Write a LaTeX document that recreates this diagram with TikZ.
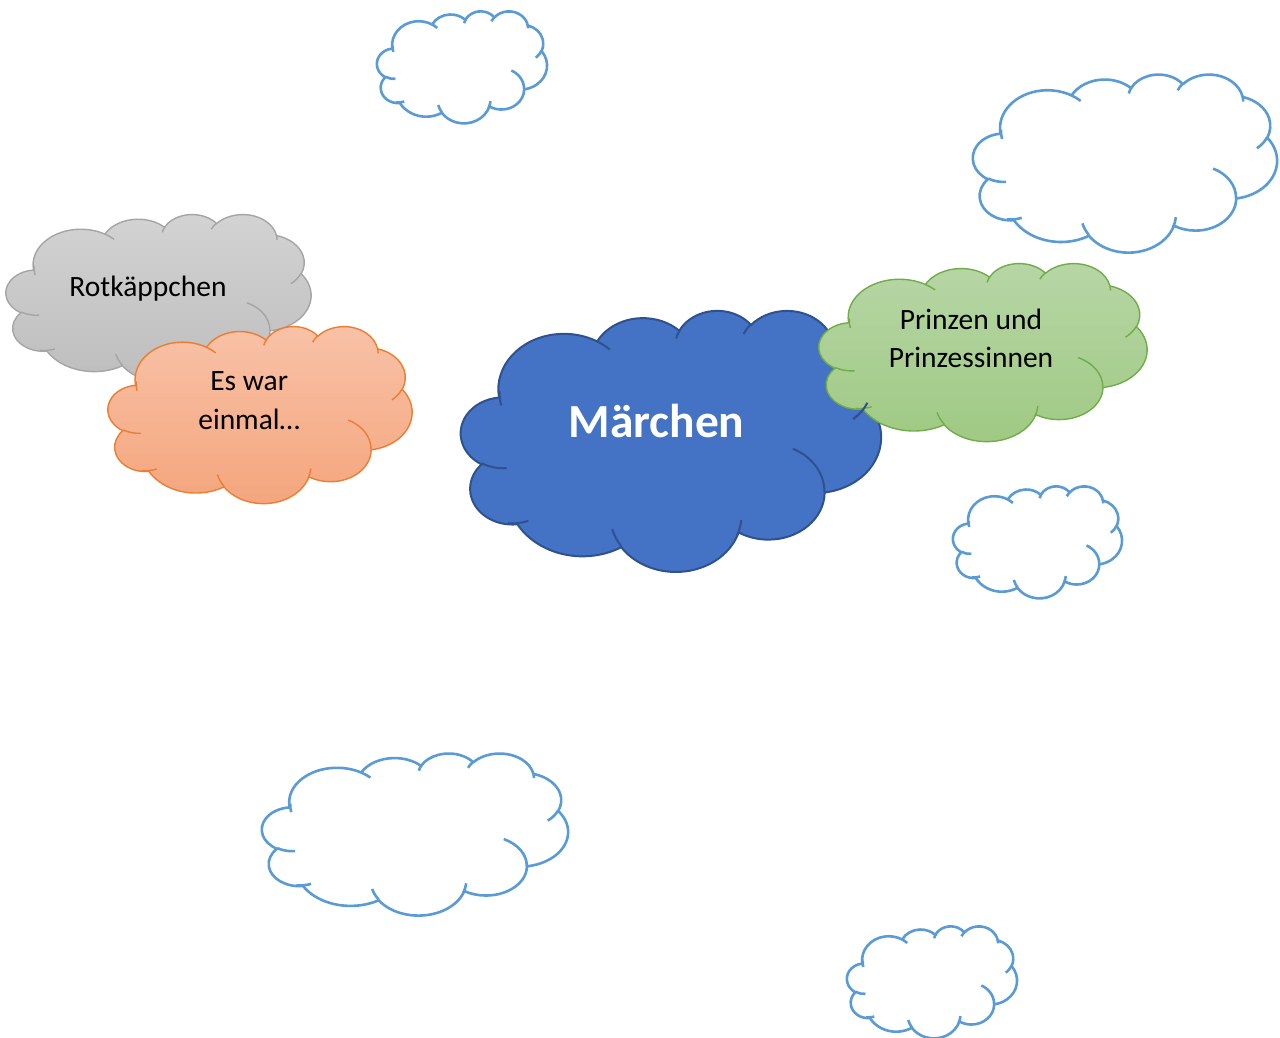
\documentclass[tikz,border=0pt]{standalone}
\usepackage{fontspec}
\setmainfont{Carlito}

% --- Office-style cloud geometry, computed once (units: 1/100 of 43200 box) ---
\newcommand\mkarc[5]{%
  \pgfmathsetmacro\cldtA{atan2((#2)*sin(#4),(#3)*cos(#4))}%
  \pgfmathsetmacro\cldtB{atan2((#2)*sin((#4)+(#5)),(#3)*cos((#4)+(#5)))}%
  \pgfmathsetmacro\cldtD{\cldtB-\cldtA}%
  \pgfmathsetmacro\cldtD{ifthenelse(\cldtD<0,\cldtD+360,\cldtD)}%
  \expandafter\xdef\csname cld#1\endcsname{ arc[start angle=\cldtA, delta angle=\cldtD, x radius=#2, y radius=#3]}%
}
\mkarc{A}{67.53}{91.90}{-190.48748}{123.78053}
\mkarc{B}{53.33}{72.67}{-144.10238}{89.94523}
\mkarc{C}{43.65}{59.45}{-145.80792}{99.72302}
\mkarc{D}{48.57}{65.95}{-130.98607}{117.24173}
\mkarc{E}{53.33}{72.73}{-78.70888}{109.02692}
\mkarc{F}{67.75}{92.20}{-46.26725}{130.26900}
\mkarc{G}{57.85}{78.67}{0.62502}{114.03333}
\mkarc{H}{67.52}{92.15}{22.45160}{115.17255}
\mkarc{I}{77.20}{105.43}{66.24263}{75.71102}
\mkarc{J}{43.60}{59.18}{-274.94208}{146.73557}
\mkarc{K}{43.45}{59.45}{-246.82850}{152.51885}
\mkarc{a}{43.45}{59.45}{86.74200}{26.42950}
\mkarc{b}{43.60}{59.18}{73.61047}{20.99983}
\mkarc{c}{67.52}{92.15}{137.62415}{23.10247}
\mkarc{d}{67.52}{92.15}{6.45327}{20.88238}
\mkarc{e}{57.85}{78.67}{-70.29235}{70.91737}
\mkarc{f}{53.33}{72.73}{30.31803}{27.75150}
\mkarc{g}{48.57}{65.95}{-13.74433}{14.85890}
\mkarc{h}{48.57}{65.95}{-149.18145}{18.19537}
\mkarc{i}{43.65}{59.45}{-163.49427}{17.68635}
\mkarc{j}{67.53}{91.90}{-66.70695}{12.31935}
\mkarc{k}{67.53}{91.90}{163.73648}{19.50135}
\xdef\cloudmain{(39.00,143.70)\cldA\cldB\cldC\cldD\cldE\cldF\cldG\cldH\cldI\cldJ\cldK -- cycle}
\xdef\clouddetail{(46.93,261.77)\clda (69.28,348.99)\cldb (164.78,390.90)\cldc
  (288.27,347.51)\cldd (341.29,229.54)\clde (417.98,153.54)\cldf (383.24,54.26)\cldg
  (290.78,39.52)\cldh (221.41,47.20)\cldi (140.00,51.92)\cldj (41.27,157.89)\cldk}
\xdef\clouddetailsix{(417.98,153.54)\cldf}

% #1 x0, #2 y0, #3 w, #4 h, #5 fill style, #6 line style
\newcommand\cloudbody[6]{%
  \begin{scope}[shift={(#1,#2)}, xscale=#3/432, yscale=#4/432]
    \path[#5,#6] \cloudmain;
    \path[#6] \clouddetail;
  \end{scope}}
\newcommand\cloudsix[5]{%
  \begin{scope}[shift={(#1,#2)}, xscale=#3/432, yscale=#4/432]
    \path[#5] \clouddetailsix;
  \end{scope}}

\definecolor{wline}{HTML}{5B9BD5}
\definecolor{bfill}{HTML}{4472C4}
\definecolor{bline}{HTML}{2F528F}
\definecolor{gline}{HTML}{70AD47}
\definecolor{gtop}{RGB}{183,214,166}
\definecolor{gbot}{RGB}{159,201,131}
\definecolor{oline}{HTML}{ED7D31}
\definecolor{otop}{RGB}{248,194,168}
\definecolor{obot}{RGB}{244,165,124}
\definecolor{kline}{HTML}{A5A5A5}
\definecolor{ktop}{RGB}{211,211,211}
\definecolor{kbot}{RGB}{189,189,189}

\tikzset{
  whitefill/.style={fill=white},
  whiteline/.style={draw=wline, line width=2.6pt, line join=round},
  grayfill/.style={top color=ktop, bottom color=kbot},
  grayline/.style={draw=kline, line width=1.4pt},
  orangefill/.style={top color=otop, bottom color=obot},
  orangeline/.style={draw=oline, line width=1.4pt},
  bluefill/.style={fill=bfill},
  blueline/.style={draw=bline, line width=2pt},
  greenfill/.style={top color=gtop, bottom color=gbot},
  greenline/.style={draw=gline, line width=1.4pt},
  cloudtext/.style={font=\fontsize{29.5}{36}\selectfont, text=black, inner sep=0pt, anchor=base},
  titletext/.style={font=\fontsize{47.5}{57}\selectfont\bfseries, text=white, inner sep=0pt, anchor=base},
}

\begin{document}
\begin{tikzpicture}[x=1pt, y=-1pt]
  \useasboundingbox (0,0) rectangle (1280,1037);
  \fill[white] (0,0) rectangle (1280,1037);

  % empty clouds
  \cloudbody{377}{11}{170}{112}{whitefill}{whiteline}
  \cloudbody{973}{74}{304}{178}{whitefill}{whiteline}
  \cloudbody{953}{486}{169}{112}{whitefill}{whiteline}
  \cloudbody{262}{753}{306}{162}{whitefill}{whiteline}
  \cloudbody{847}{926}{170}{112}{whitefill}{whiteline}

  % filled clouds
  \cloudbody{6}{214}{305}{167}{grayfill}{grayline}
  \cloudbody{108}{326}{304}{177}{orangefill}{orangeline}
  \cloudbody{461}{310}{420}{261}{bluefill}{blueline}
  \cloudbody{819}{263}{328}{178}{greenfill}{greenline}
  \cloudsix{461}{310}{420}{261}{blueline}

  % texts
  \node[cloudtext] (rot) at (148,296.7) {Rotkäppchen};
  \node[cloudtext] (es1) at (249.2,390) {Es war};
  \node[cloudtext] (es2) at (249.2,429) {einmal…};
  \node[titletext] (mar) at (656.5,437.7) {Märchen};
  \node[cloudtext] (pr1) at (971,329) {Prinzen und};
  \node[cloudtext] (pr2) at (971,367) {Prinzessinnen};
\end{tikzpicture}
\end{document}
